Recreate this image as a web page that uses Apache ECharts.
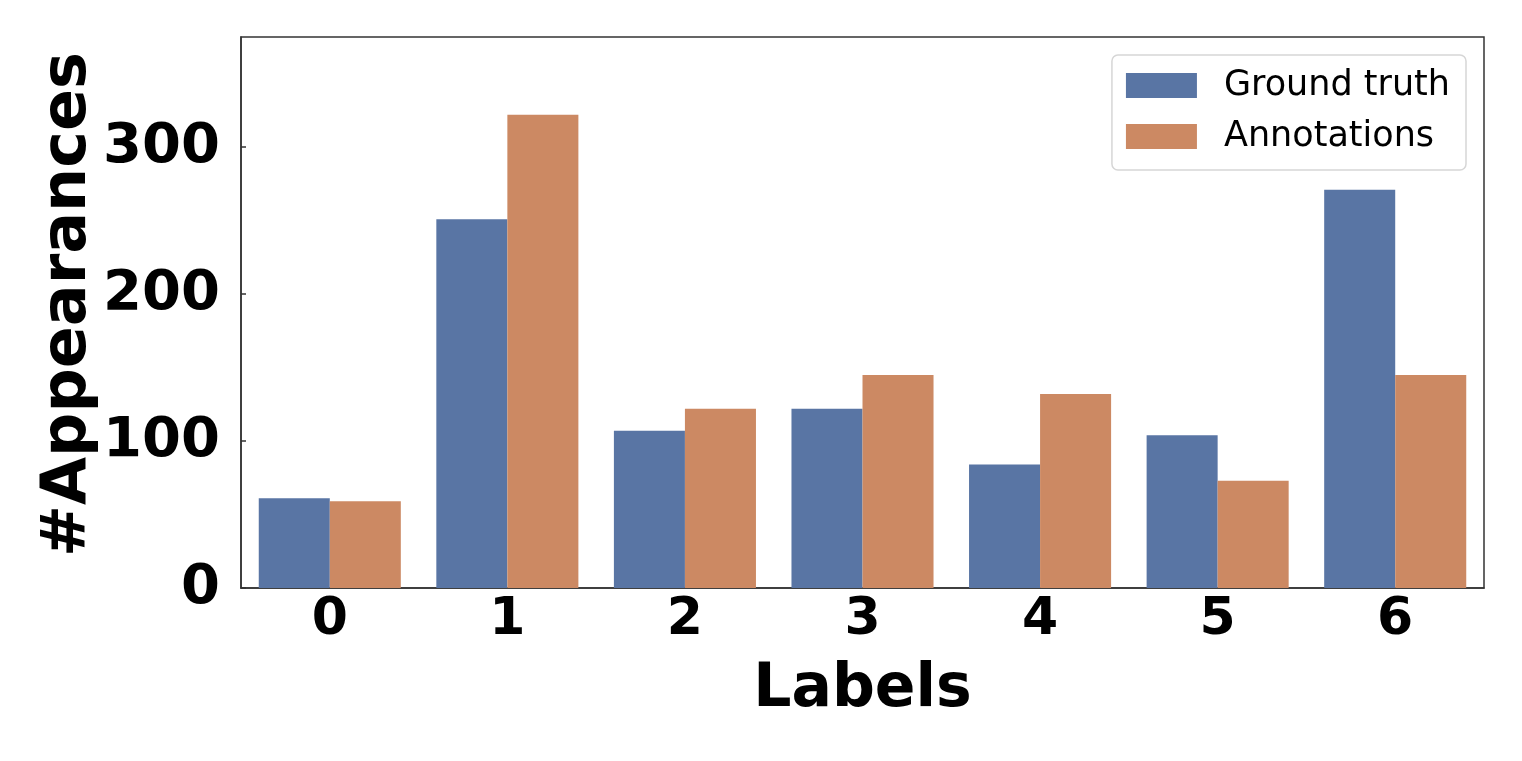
<!DOCTYPE html>
<html>
<head>
<meta charset="utf-8">
<script src="https://cdn.jsdelivr.net/npm/echarts@6/dist/echarts.min.js"></script>
<style>
  html, body { margin: 0; padding: 0; background: #fff; }
  #chart { width: 1522px; height: 761px; }
</style>
</head>
<body>
<div id="chart"></div>
<script>
// categories and counts
const labels = ['0', '1', '2', '3', '4', '5', '6'];
const groundTruth = [61, 251, 107, 122, 84, 104, 271];
const annotations = [59, 322, 122, 145, 132, 73, 145];
const seriesNames = ['Ground truth', 'Annotations'];

var chartDom = document.getElementById('chart');
var myChart = echarts.init(chartDom);
var fontBold = 'DejaVu Sans';

var option = {
  animation: false,
  backgroundColor: '#fff',
  grid: {
    left: 241,
    right: 38,
    top: 37,
    bottom: 173,
    show: true,
    borderColor: '#333',
    borderWidth: 1.5
  },
  legend: {
    orient: 'vertical',
    right: 56,
    top: 55,
    data: seriesNames,
    icon: 'rect',
    itemWidth: 71,
    itemHeight: 25,
    itemGap: 16,
    padding: [13, 16, 16, 14],
    borderColor: '#d6d6d6',
    borderWidth: 1.5,
    borderRadius: 6,
    backgroundColor: 'rgba(255,255,255,0.8)',
    textStyle: {
      fontFamily: 'DejaVu Sans',
      fontSize: 35,
      color: '#000',
      padding: [0, 0, 0, 22]
    }
  },
  xAxis: {
    type: 'category',
    data: labels,
    name: 'Labels',
    nameLocation: 'middle',
    nameGap: 72,
    nameMoveOverlap: false,
    nameTextStyle: { fontFamily: fontBold, fontWeight: 'bold', fontSize: 60, color: '#000' },
    axisLine: { lineStyle: { color: '#333', width: 1.5 } },
    axisTick: { show: false },
    axisLabel: { fontFamily: fontBold, fontWeight: 'bold', fontSize: 52, color: '#000', margin: 6 }
  },
  yAxis: {
    type: 'value',
    min: 0,
    max: 375,
    interval: 100,
    name: '#Appearances',
    nameLocation: 'middle',
    nameGap: 141,
    nameMoveOverlap: false,
    nameTextStyle: { fontFamily: fontBold, fontWeight: 'bold', fontSize: 62, color: '#000', padding: [0, 0, 0, 16] },
    axisLine: { show: true, lineStyle: { color: '#333', width: 1.5 } },
    axisTick: { show: true, inside: true, length: 5, lineStyle: { color: '#333', width: 1.5 } },
    splitLine: { show: false },
    axisLabel: { fontFamily: fontBold, fontWeight: 'bold', fontSize: 56, color: '#000', margin: 21, showMaxLabel: false }
  },
  series: [
    {
      name: seriesNames[0],
      type: 'bar',
      data: groundTruth,
      barGap: '0%',
      barCategoryGap: '20%',
      itemStyle: { color: '#5975a4' }
    },
    {
      name: seriesNames[1],
      type: 'bar',
      data: annotations,
      barGap: '0%',
      barCategoryGap: '20%',
      itemStyle: { color: '#cc8963' }
    }
  ]
};
option && myChart.setOption(option);
</script>
</body>
</html>
